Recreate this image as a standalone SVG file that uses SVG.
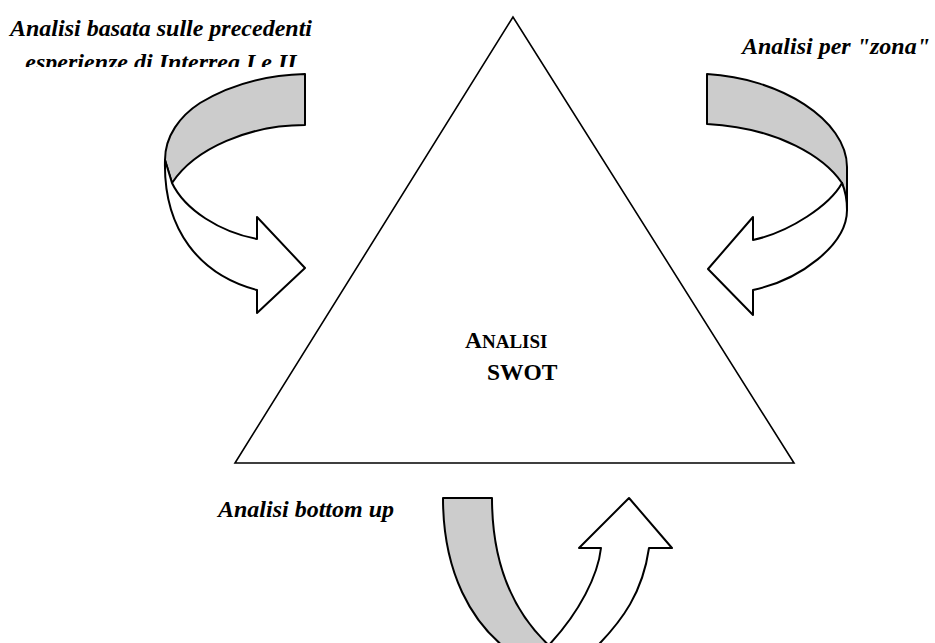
<svg xmlns="http://www.w3.org/2000/svg" width="935" height="643" viewBox="0 0 935 643">
<style>
.lbl{font-family:"Liberation Serif","Times New Roman",serif;font-weight:bold;font-style:italic;font-size:24px;fill:#000}
.swot{font-family:"Liberation Serif","Times New Roman",serif;font-weight:bold;font-size:23.5px;fill:#000}
.band{fill:#cccccc;stroke:#000;stroke-width:2;stroke-linejoin:round}
.body{fill:#fff;stroke:#000;stroke-width:2;stroke-linejoin:round}
</style>
<defs>
<clipPath id="cut"><rect x="0" y="0" width="935" height="67"/></clipPath>
</defs>
<rect width="935" height="643" fill="#fff"/>
<g id="triangle">
<polygon points="513,17 235,463 794,463" fill="#fff" stroke="#000" stroke-width="1.6"/>
<text class="swot" x="465" y="348">A<tspan font-size="19">NALISI</tspan></text>
<text class="swot" x="487" y="380">SWOT</text>
</g>
<g id="arrow-left">
<path class="band" d="M305,74 C265,75 228,86 200,103 C180,116 165,136 165,160 L172,183 C195,148 250,125 305,125 Z"/>
<path class="body" d="M165,160 C163,230 200,275 257,290 L257,313 L305,268 L257,217 L257,239 C220,232 185,210 172,183 Z"/>
<g clip-path="url(#cut)">
<text class="lbl" x="161" y="36" text-anchor="middle">Analisi basata sulle precedenti</text>
<text class="lbl" x="161" y="70" text-anchor="middle">esperienze di Interreg I e II</text>
</g>
</g>
<g id="arrow-right">
<path class="band" d="M707,74 C780,78 847,120 847,167 L847,210 C846,200 844,190 842,183 C825,158 780,128 707,124 Z"/>
<path class="body" d="M842,183 C845,190 847,200 847,210 C847,245 800,280 753,290 L753,315 L708,269 L753,217 L753,240 C790,232 830,205 842,183 Z"/>
<text class="lbl" x="742" y="54">Analisi per "zona"</text>
</g>
<g id="arrow-bottom">
<path class="band" d="M443,498 L492,498 C492,560 510,615 560,655 L515,655 C470,625 443,570 443,498 Z"/>
<path class="body" d="M548,646 C580,612 598,575 601,548 L579,548 L629,498 L672,548 L649,548 C643,590 625,620 588,655 Z"/>
<text class="lbl" x="218" y="517">Analisi bottom up</text>
</g>
</svg>
